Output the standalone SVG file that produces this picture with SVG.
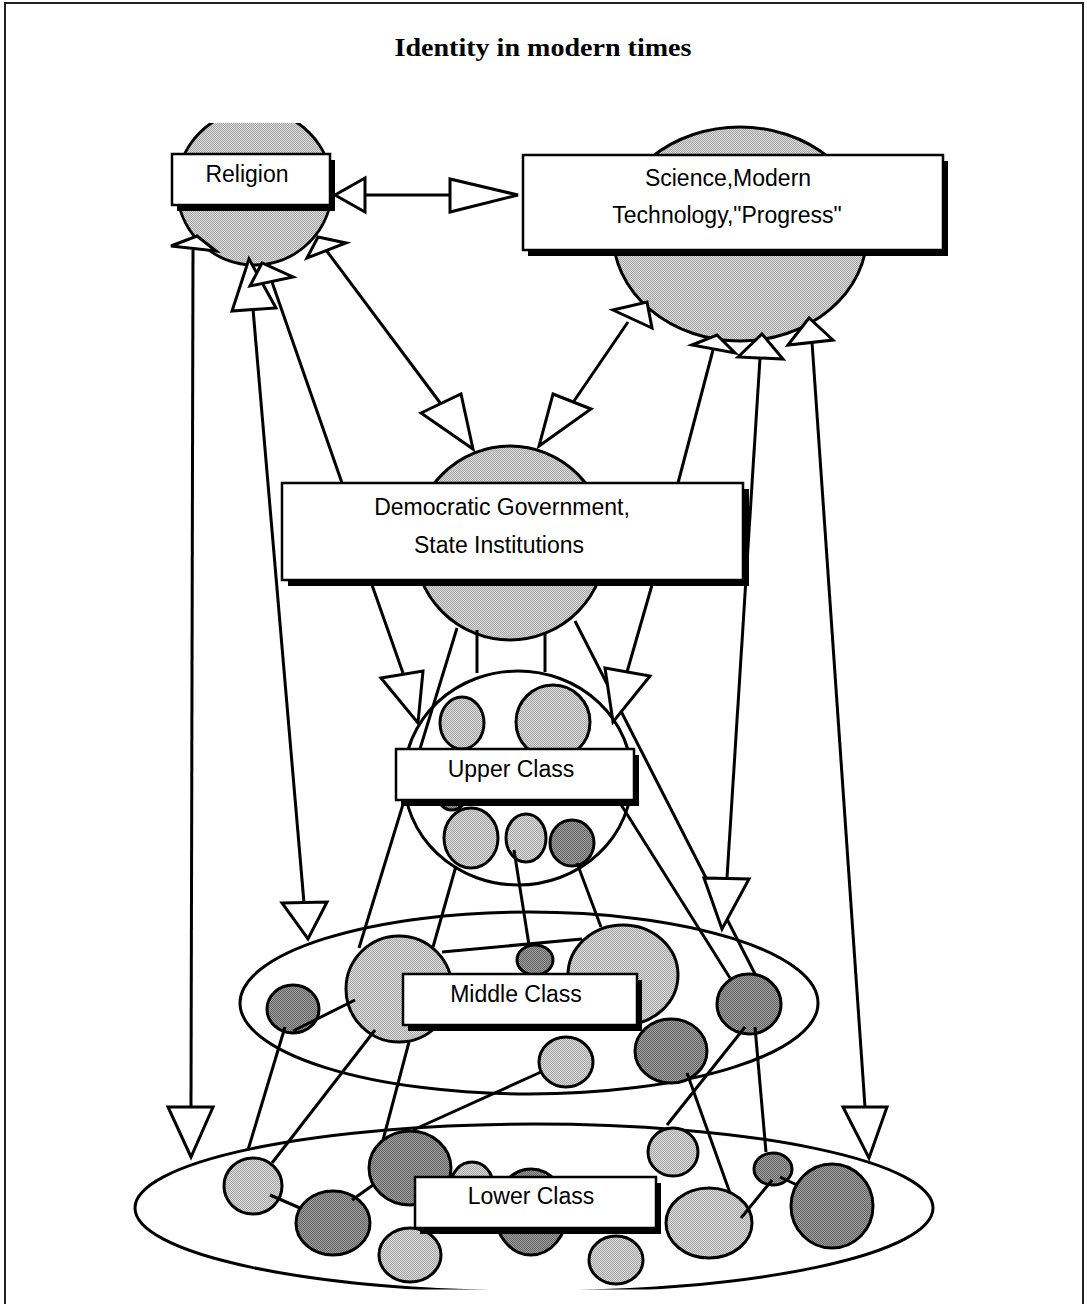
<svg xmlns="http://www.w3.org/2000/svg" width="1087" height="1304" viewBox="0 0 1087 1304">
<defs>
<pattern id="lt" width="2" height="2" patternUnits="userSpaceOnUse"><rect width="2" height="2" fill="#dadada"/><rect width="1" height="1" fill="#a6a6a6"/><rect x="1" y="1" width="1" height="1" fill="#a6a6a6"/></pattern>
<pattern id="dk" width="2" height="2" patternUnits="userSpaceOnUse"><rect width="2" height="2" fill="#9c9c9c"/><rect width="1" height="1" fill="#666"/><rect x="1" y="1" width="1" height="1" fill="#666"/></pattern>
<clipPath id="relclip"><rect x="0" y="123" width="600" height="300"/></clipPath>
<clipPath id="lowclip"><rect x="0" y="0" width="1087" height="1289.5"/></clipPath>
</defs>
<style>
.o{fill:none;stroke:#000;stroke-width:3}
.w{fill:#fff;stroke:#000;stroke-width:3}
.l{fill:url(#lt);stroke:#000;stroke-width:3}
.d{fill:url(#dk);stroke:#000;stroke-width:3}
.ln{stroke:#000;stroke-width:3;fill:none}
.ah{fill:#fff;stroke:#000;stroke-width:3;stroke-linejoin:miter}
.sh{fill:#000}
.bx{fill:#fff;stroke:#000;stroke-width:2.5}
.t{font-family:"Liberation Sans",Arial,sans-serif;font-size:23px;fill:#000;text-anchor:middle}
.title{font-family:"Liberation Serif","Times New Roman",serif;font-size:26px;font-weight:bold;fill:#000;text-anchor:middle}
</style>
<rect width="1087" height="1304" fill="#fff"/>
<path d="M5,1304 V3 H1083 V1304" fill="none" stroke="#222" stroke-width="2"/>
<text class="title" x="543" y="56" textLength="297" lengthAdjust="spacingAndGlyphs">Identity in modern times</text>

<g id="lower-class">
<ellipse class="w" cx="534" cy="1208" rx="399" ry="84" clip-path="url(#lowclip)"/>
<ellipse class="l" cx="253" cy="1186" rx="29" ry="28"/>
<ellipse class="d" cx="333" cy="1223" rx="37" ry="32"/>
<ellipse class="l" cx="472" cy="1185" rx="21" ry="23"/>
<ellipse class="d" cx="410" cy="1168" rx="41" ry="37"/>
<ellipse class="l" cx="410" cy="1255" rx="31" ry="27"/>
<ellipse class="d" cx="531" cy="1212" rx="36" ry="43"/>
<ellipse class="l" cx="616" cy="1260" rx="27" ry="24"/>
<ellipse class="l" cx="673" cy="1152" rx="25" ry="24"/>
<ellipse class="l" cx="709" cy="1223" rx="43" ry="35"/>
<ellipse class="d" cx="773" cy="1169" rx="19" ry="16"/>
<ellipse class="d" cx="832" cy="1206" rx="41" ry="42"/>
</g>

<g id="middle-class">
<ellipse class="o" cx="529" cy="1003" rx="289" ry="91"/>
<ellipse class="d" cx="293" cy="1009" rx="26" ry="24"/>
<ellipse class="l" cx="399" cy="989" rx="53" ry="53"/>
<ellipse class="d" cx="535" cy="960" rx="18" ry="15"/>
<ellipse class="l" cx="623" cy="975" rx="55" ry="50"/>
<ellipse class="l" cx="566" cy="1062" rx="27" ry="25"/>
<ellipse class="d" cx="671" cy="1051" rx="36" ry="32"/>
<ellipse class="d" cx="749" cy="1004" rx="32" ry="30"/>
</g>

<g id="upper-class">
<ellipse class="w" cx="518" cy="778" rx="114" ry="107"/>
<ellipse class="l" cx="462" cy="723" rx="22" ry="26"/>
<ellipse class="l" cx="553" cy="722" rx="37" ry="37"/>
<ellipse class="d" cx="452" cy="796" rx="14" ry="14"/>
<ellipse class="l" cx="471" cy="838" rx="27" ry="30"/>
<ellipse class="l" cx="526" cy="838" rx="20" ry="24"/>
<ellipse class="d" cx="572" cy="843" rx="22" ry="23"/>
</g>

<g id="religion-circle">
<ellipse class="l" cx="254.5" cy="187.5" rx="77.5" ry="77.5" clip-path="url(#relclip)"/>
</g>
<g id="science-circle">
<ellipse class="l" cx="740" cy="234" rx="127" ry="107"/>
</g>
<g id="government-circle">
<ellipse class="l" cx="510" cy="543" rx="96" ry="97"/>
</g>

<g id="connectors">
<line class="ln" x1="365" y1="195" x2="450" y2="195"/>
<line class="ln" x1="193" y1="250" x2="191" y2="1107"/>
<line class="ln" x1="253" y1="309" x2="304" y2="903"/>
<line class="ln" x1="272" y1="282" x2="342" y2="483"/>
<line class="ln" x1="326" y1="250" x2="441" y2="404"/>
<line class="ln" x1="628" y1="322" x2="574" y2="401"/>
<line class="ln" x1="678" y1="483" x2="713" y2="350"/>
<line class="ln" x1="760" y1="358" x2="727" y2="878"/>
<line class="ln" x1="812" y1="342" x2="865" y2="1107"/>
<line class="ln" x1="372" y1="585" x2="403" y2="673"/>
<line class="ln" x1="652" y1="585" x2="627" y2="672"/>
<line class="ln" x1="457" y1="628" x2="359" y2="948"/>
<line class="ln" x1="477" y1="630" x2="477" y2="673"/>
<line class="ln" x1="545" y1="633" x2="545" y2="672"/>
<line class="ln" x1="575" y1="621" x2="755" y2="974"/>
<line class="ln" x1="620" y1="803" x2="730" y2="978"/>
<line class="ln" x1="456" y1="866" x2="433" y2="947"/>
<line class="ln" x1="514" y1="850" x2="529" y2="945"/>
<line class="ln" x1="577" y1="863" x2="601" y2="927"/>
<line class="ln" x1="442" y1="952" x2="582" y2="939"/>
<line class="ln" x1="293" y1="1031" x2="355" y2="1000"/>
<line class="ln" x1="285" y1="1027" x2="248" y2="1150"/>
<line class="ln" x1="375" y1="1030" x2="272" y2="1163"/>
<line class="ln" x1="409" y1="1042" x2="383" y2="1140"/>
<line class="ln" x1="413" y1="1130" x2="541" y2="1072"/>
<line class="ln" x1="270" y1="1195" x2="300" y2="1208"/>
<line class="ln" x1="352" y1="1200" x2="373" y2="1185"/>
<line class="ln" x1="745" y1="1027" x2="667" y2="1125"/>
<line class="ln" x1="755" y1="1027" x2="766" y2="1152"/>
<line class="ln" x1="687" y1="1073" x2="730" y2="1193"/>
<line class="ln" x1="772" y1="1180" x2="741" y2="1218"/>
<line class="ln" x1="780" y1="1177" x2="797" y2="1185"/>
<polygon class="ah" points="335,195 365,178 365,212"/>
<polygon class="ah" points="518,195 450,179 450,212"/>
<polygon class="ah" points="171,246 197,236 216,251"/>
<polygon class="ah" points="168,1107 213,1107 191,1157"/>
<polygon class="ah" points="249,259 232,311 276,308"/>
<polygon class="ah" points="282,903 327,902 308,939"/>
<polygon class="ah" points="250,286 262,263 293,277"/>
<polygon class="ah" points="307,258 318,237 346,243"/>
<polygon class="ah" points="421,413 461,394 473,449"/>
<polygon class="ah" points="613,310 647,302 652,328"/>
<polygon class="ah" points="553,394 591,409 539,446"/>
<polygon class="ah" points="692,345 717,335 735,353"/>
<polygon class="ah" points="738,357 762,334 783,359"/>
<polygon class="ah" points="704,878 749,879 722,929"/>
<polygon class="ah" points="788,345 809,318 833,340"/>
<polygon class="ah" points="843,1107 887,1107 869,1158"/>
<polygon class="ah" points="381,678 423,671 418,723"/>
<polygon class="ah" points="605,668 650,676 613,722"/>
</g>

<g id="religion">
<rect class="sh" x="177" y="160" width="158" height="51"/>
<rect class="bx" x="172" y="154" width="158" height="51"/>
<text class="t" x="247" y="182">Religion</text>
</g>
<g id="science">
<rect class="sh" x="528" y="161" width="420" height="95"/>
<rect class="bx" x="523" y="155" width="420" height="95"/>
<text class="t" x="728" y="186">Science,Modern</text>
<text class="t" x="727" y="223">Technology,"Progress"</text>
</g>
<g id="government">
<rect class="sh" x="288" y="489" width="461" height="97"/>
<rect class="bx" x="282" y="483" width="461" height="97"/>
<text class="t" x="502" y="515">Democratic Government,</text>
<text class="t" x="499" y="553">State Institutions</text>
</g>
<g id="upper-label">
<rect class="sh" x="401" y="755" width="238" height="51"/>
<rect class="bx" x="396" y="749" width="238" height="51"/>
<text class="t" x="511" y="777">Upper Class</text>
</g>
<g id="middle-label">
<rect class="sh" x="408" y="980" width="234" height="51"/>
<rect class="bx" x="403" y="974" width="234" height="51"/>
<text class="t" x="516" y="1002">Middle Class</text>
</g>
<g id="lower-label">
<rect class="sh" x="420" y="1183" width="241" height="51"/>
<rect class="bx" x="415" y="1177" width="241" height="51"/>
<text class="t" x="531" y="1204">Lower Class</text>
</g>
</svg>
